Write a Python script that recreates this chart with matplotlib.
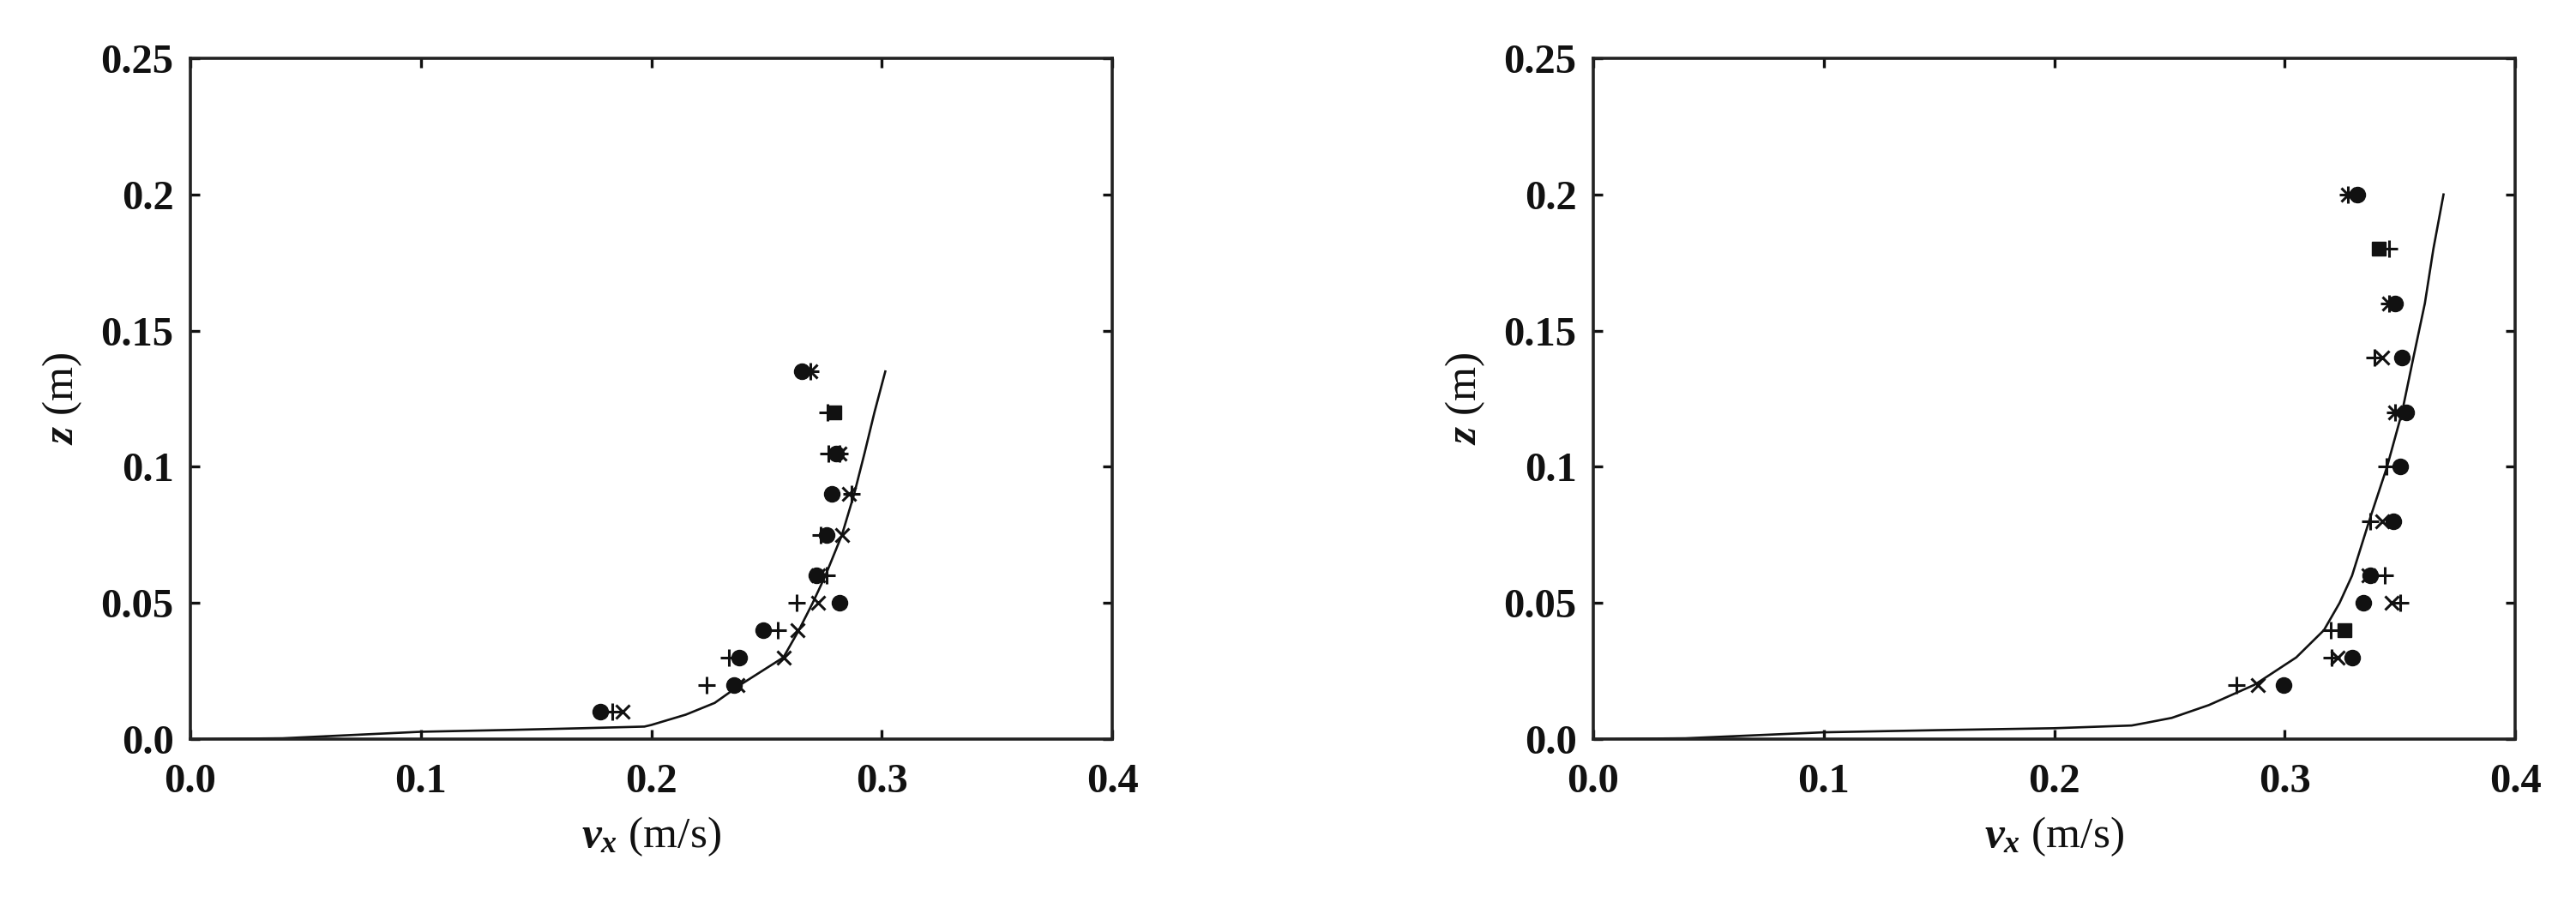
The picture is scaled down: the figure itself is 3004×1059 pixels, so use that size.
import matplotlib
matplotlib.use("Agg")
import matplotlib.pyplot as plt

# Fonts: Times-like serif, bold ticks
plt.rcParams['font.family'] = ['Liberation Serif', 'DejaVu Serif']
plt.rcParams['mathtext.fontset'] = 'custom'
plt.rcParams['mathtext.it'] = 'Liberation Serif:italic:bold'
plt.rcParams['mathtext.rm'] = 'Liberation Serif'

# Axis ticks / labels
x_ticks = [0.0, 0.1, 0.2, 0.3, 0.4]
x_labels = ['0.0', '0.1', '0.2', '0.3', '0.4']
y_ticks = [0.0, 0.05, 0.1, 0.15, 0.2, 0.25]
y_labels = ['0.0', '0.05', '0.1', '0.15', '0.2', '0.25']

# ---- Left panel data (v_x in m/s, z in m) ----
left_curve_v = [0.0, 0.04, 0.07, 0.10, 0.14, 0.17, 0.197, 0.200, 0.215, 0.2275,
                0.2387, 0.2573, 0.2640, 0.2700, 0.2755, 0.2827, 0.2880, 0.2925,
                0.2968, 0.3015]
left_curve_z = [0.0, 0.0003, 0.0015, 0.0027, 0.0034, 0.0040, 0.0046, 0.0052, 0.009,
                0.0133, 0.020, 0.030, 0.040, 0.050, 0.060, 0.075, 0.090, 0.105,
                0.120, 0.135]

left_circle_v = [0.178, 0.236, 0.238, 0.2486, 0.2815, 0.2716, 0.2759, 0.2784, 0.2802, 0.2653]
left_circle_z = [0.01, 0.02, 0.03, 0.04, 0.05, 0.06, 0.075, 0.09, 0.105, 0.135]
left_plus_v = [0.1832, 0.2238, 0.2337, 0.2549, 0.2629, 0.2759, 0.2734, 0.287, 0.2768, 0.2765]
left_plus_z = [0.01, 0.02, 0.03, 0.04, 0.05, 0.06, 0.075, 0.09, 0.105, 0.12]
left_cross_v = [0.1876, 0.2375, 0.2573, 0.2635, 0.2722, 0.2722, 0.2827, 0.2856]
left_cross_z = [0.01, 0.02, 0.03, 0.04, 0.05, 0.06, 0.075, 0.09]
left_star_v = [0.2815, 0.269]
left_star_z = [0.105, 0.135]
left_square_v = [0.2795]
left_square_z = [0.12]

# ---- Right panel data ----
right_curve_v = [0.0, 0.04, 0.07, 0.10, 0.15, 0.20, 0.2336, 0.2400, 0.2510, 0.2671,
                 0.2870, 0.3050, 0.3170, 0.3238, 0.3292, 0.3366, 0.3444, 0.3509,
                 0.3558, 0.3608, 0.3645, 0.3689]
right_curve_z = [0.0, 0.0003, 0.0014, 0.0025, 0.0033, 0.0040, 0.0050, 0.0060, 0.0078,
                 0.0125, 0.020, 0.030, 0.040, 0.050, 0.060, 0.080, 0.100, 0.120,
                 0.140, 0.160, 0.180, 0.200]

right_circle_v = [0.2994, 0.3292, 0.3341, 0.3372, 0.3471, 0.3502, 0.3527, 0.3509, 0.3478, 0.3316]
right_circle_z = [0.02, 0.03, 0.05, 0.06, 0.08, 0.10, 0.12, 0.14, 0.16, 0.20]
right_plus_v = [0.2789, 0.3205, 0.3198, 0.3502, 0.3434, 0.3372, 0.344, 0.339, 0.3453]
right_plus_z = [0.02, 0.03, 0.04, 0.05, 0.06, 0.08, 0.10, 0.14, 0.18]
right_cross_v = [0.2882, 0.323, 0.3465, 0.3365, 0.3422, 0.3422]
right_cross_z = [0.02, 0.03, 0.05, 0.06, 0.08, 0.14]
right_star_v = [0.3478, 0.3453, 0.3273]
right_star_z = [0.12, 0.16, 0.20]
right_square_v = [0.3261, 0.3409]
right_square_z = [0.04, 0.18]

fig = plt.figure(figsize=(30.04, 10.59), dpi=100)
ax1 = fig.add_axes([0.0739, 0.186, 0.3579, 0.7498])
ax2 = fig.add_axes([0.6185, 0.186, 0.3579, 0.7498])

panels = [
    (ax1, left_curve_v, left_curve_z, left_circle_v, left_circle_z, left_plus_v, left_plus_z,
     left_cross_v, left_cross_z, left_star_v, left_star_z, left_square_v, left_square_z),
    (ax2, right_curve_v, right_curve_z, right_circle_v, right_circle_z, right_plus_v, right_plus_z,
     right_cross_v, right_cross_z, right_star_v, right_star_z, right_square_v, right_square_z),
]

ink = '#111111'
for (ax, cv, cz, ov, oz, pv, pz, xv, xz, sv, sz, qv, qz) in panels:
    ax.plot(cv, cz, color=ink, lw=1.9, zorder=2)
    ax.plot(pv, pz, ls='none', marker='+', ms=14, mew=2.2, color=ink, zorder=3)
    ax.plot(xv, xz, ls='none', marker='x', ms=11, mew=2.2, color=ink, zorder=3)
    # asterisk = plus and cross on top of each other
    ax.plot(sv, sz, ls='none', marker='+', ms=14, mew=2.2, color=ink, zorder=3)
    ax.plot(sv, sz, ls='none', marker='x', ms=11, mew=2.2, color=ink, zorder=3)
    ax.plot(ov, oz, ls='none', marker='o', ms=13, color=ink, mec=ink, zorder=4)
    ax.plot(qv, qz, ls='none', marker='s', ms=12, color=ink, mec=ink, zorder=4)

    ax.set_xlim(0, 0.4)
    ax.set_ylim(0, 0.25)
    ax.set_xticks(x_ticks)
    ax.set_xticklabels(x_labels)
    ax.set_yticks(y_ticks)
    ax.set_yticklabels(y_labels)
    ax.tick_params(direction='in', length=8, width=2.4, top=True, right=True,
                   labelsize=35, colors=ink)
    ax.tick_params(axis='x', pad=20)
    ax.tick_params(axis='y', pad=14)
    for lbl in ax.get_xticklabels() + ax.get_yticklabels():
        lbl.set_fontweight('bold')
    for sp in ax.spines.values():
        sp.set_linewidth(2.6)
        sp.set_color('#222222')
    ax.set_xlabel(r'$v_x$ (m/s)', fontsize=37, color=ink, labelpad=12)
    ax.set_ylabel(r'$z$ (m)', fontsize=37, color=ink, labelpad=14)

fig.savefig('out.png', dpi=100)
